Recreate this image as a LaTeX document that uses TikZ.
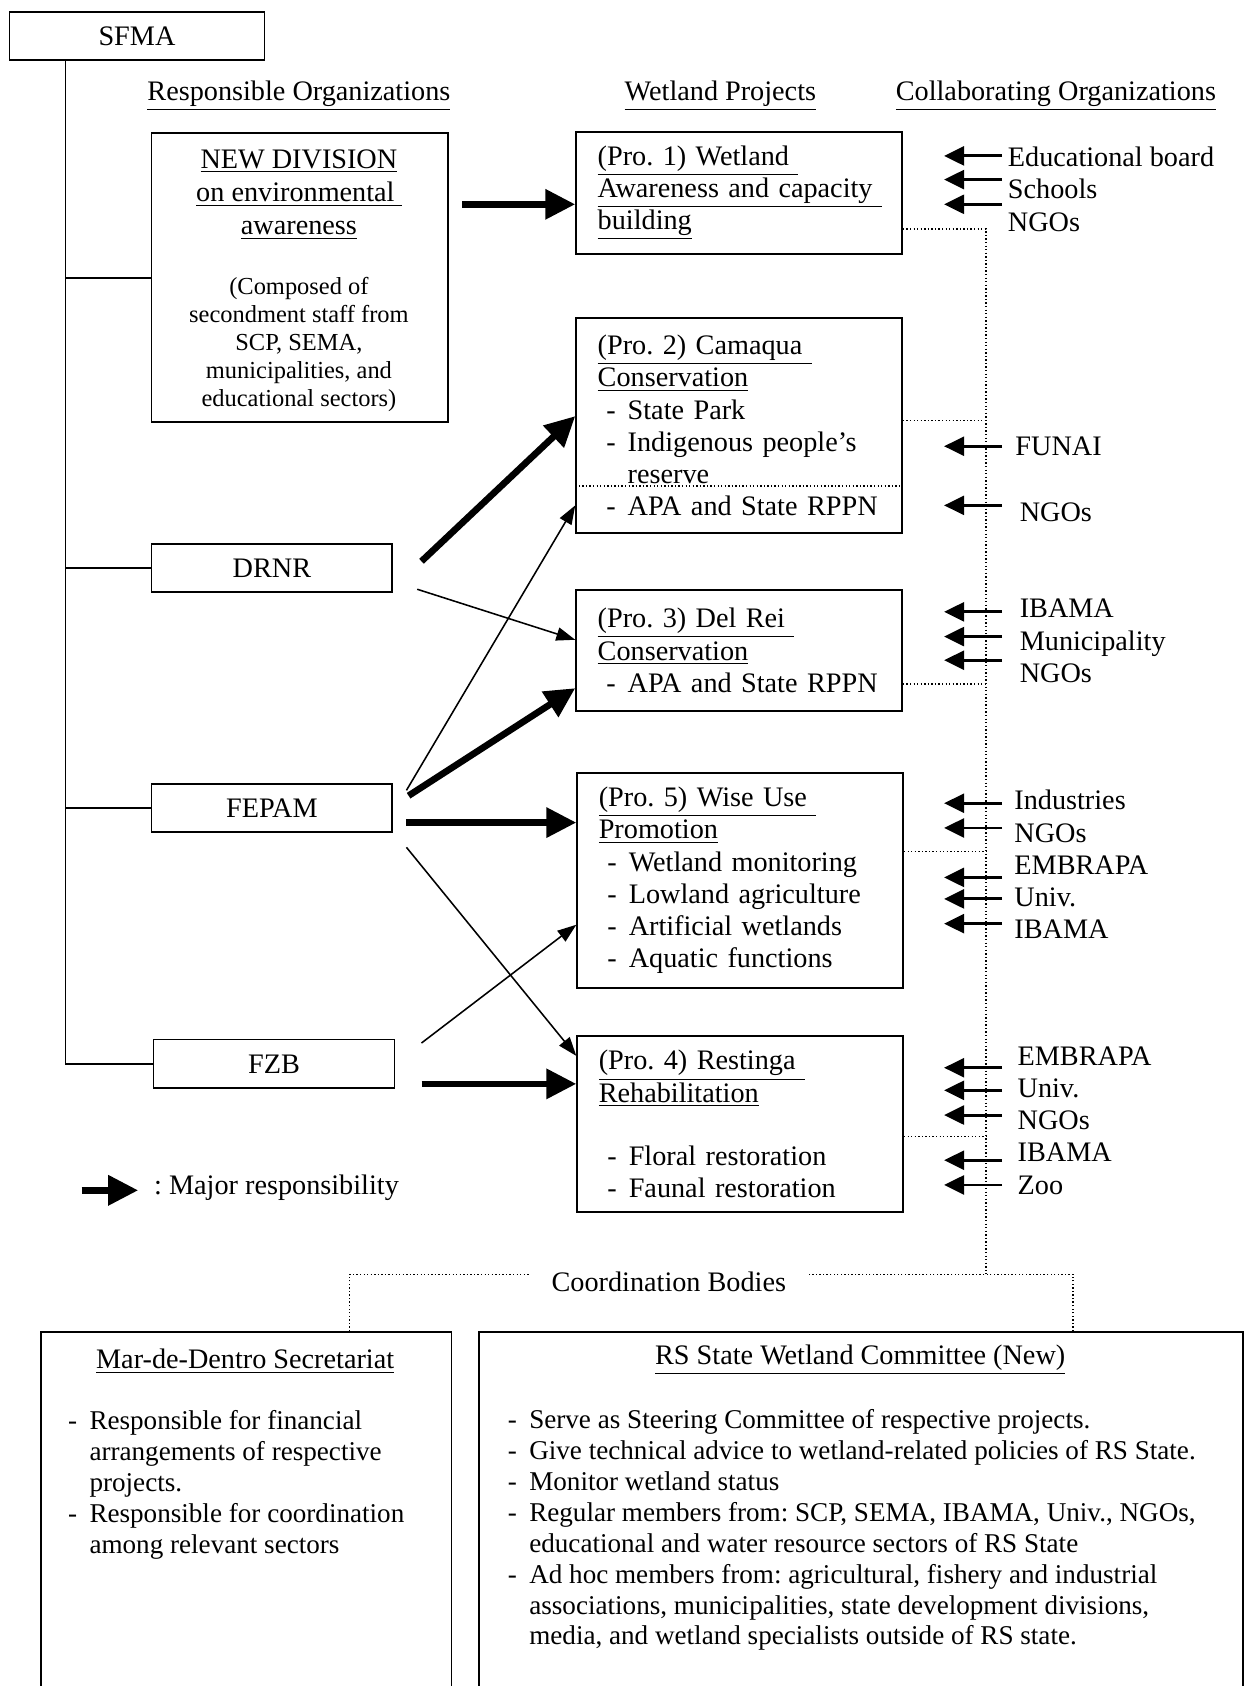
\documentclass[tikz,border=0pt]{standalone}
\usepackage{fontspec}
\setmainfont{Liberation Serif}
\usetikzlibrary{arrows.meta,positioning}
\newcommand{\dashitem}{\makebox[9.6pt][l]{-}}
\newcommand{\dashcont}{\hspace*{9.6pt}}
\frenchspacing
\begin{document}
\begin{tikzpicture}[x=0.48375pt, y=-0.48375pt,
    every node/.style={font=\fontsize{12.7}{14.5}\selectfont},
    box/.style={draw, line width=0.8pt, anchor=north west, inner sep=0pt},
    projbox/.style={box, minimum width=146.6pt, text width=127.2pt,
                    inner xsep=9.7pt, align=left},
    orgbox/.style={box, minimum width=108.4pt, minimum height=21.8pt},
    collabtext/.style={anchor=west, align=left, inner sep=0pt},
    listtext/.style={anchor=west, align=left, inner sep=0pt,
                     font=\fontsize{12.2}{13.9}\selectfont},
    major/.style={-{Triangle[length=13.5pt,width=13pt]}, line width=3pt},
    minor/.style={-{Triangle[length=8.5pt,width=6pt]}, line width=0.7pt},
    collab/.style={-{Triangle[length=9pt,width=8.5pt]}, line width=1.3pt},
    dots/.style={densely dotted, line width=0.6pt}]
  \useasboundingbox (0,0) rectangle (1160,1568);
  \clip (0,0) rectangle (1160,1568);

  % responsible organizations
  \node [box, minimum width=114.7pt, minimum height=21.8pt] (sfma) at (8,10) {SFMA};
  \node [box, minimum width=133.5pt, minimum height=130.1pt] (newdiv) at (140,123) {};
  \node [align=center, font=\fontsize{12.7}{15}\selectfont] (newdiv title) at (278,181)
    {\underline{NEW DIVISION}\\ \underline{on environmental\ }\\ \underline{awareness}};
  \node [align=center, font=\fontsize{11}{12.6}\selectfont] (newdiv note) at (278,320)
    {(Composed of\\ secondment staff from\\ SCP, SEMA,\\ municipalities, and\\ educational sectors)};
  \node [orgbox] (drnr) at (140,505) {DRNR};
  \node [orgbox] (fepam) at (140,728) {FEPAM};
  \node [orgbox] (fzb) at (142,966) {FZB};

  \coordinate (trunk) at (61,0);
  \draw [line width=0.8pt] (sfma.south -| trunk) |- (fzb.west);
  \foreach \n in {newdiv, drnr, fepam}
    \draw [line width=0.8pt] (trunk |- \n.west) -- (\n.west);

  % column heads
  \node (head resp) at (278,89) {\underline{Responsible Organizations}};
  \node (head proj) at (670,89) {\underline{Wetland Projects}};
  \node (head coll) at (982,89) {\underline{Collaborating Organizations}};

  % wetland projects
  \node [projbox, minimum height=54.7pt] (pro1) at (535,122)
    {\underline{(Pro. 1) Wetland\ }\\ \underline{Awareness and capacity\ }\\ \underline{building}};
  \node [projbox, minimum height=96.75pt] (pro2) at (535,295)
    {\underline{(Pro. 2) Camaqua\ }\\ \underline{Conservation}\\
     \hspace*{3.9pt}\dashitem State Park\\
     \hspace*{3.9pt}\dashitem Indigenous people's\\
     \hspace*{3.9pt}\dashcont reserve\\
     \hspace*{3.9pt}\dashitem APA and State RPPN};
  \draw [dots] (pro2.west |- 0,452) -- (pro2.east |- 0,452);
  \node [projbox, minimum height=54.2pt] (pro3) at (535,548)
    {\underline{(Pro. 3) Del Rei\ }\\ \underline{Conservation}\\
     \hspace*{3.9pt}\dashitem APA and State RPPN};
  \node [projbox, minimum height=96.75pt] (pro5) at (536,718)
    {\underline{(Pro. 5) Wise Use\ }\\ \underline{Promotion}\\
     \hspace*{3.9pt}\dashitem Wetland monitoring\\
     \hspace*{3.9pt}\dashitem Lowland agriculture\\
     \hspace*{3.9pt}\dashitem Artificial wetlands\\
     \hspace*{3.9pt}\dashitem Aquatic functions};
  \node [projbox, minimum height=78.9pt] (pro4) at (536,963)
    {\underline{(Pro. 4) Restinga\ }\\ \underline{Rehabilitation}\\[14pt]
     \hspace*{3.9pt}\dashitem Floral restoration\\
     \hspace*{3.9pt}\dashitem Faunal restoration};

  % responsibilities
  \coordinate (newdiv out) at (430,190);
  \coordinate (drnr out1) at (392,522);
  \coordinate (drnr out2) at (388,548);
  \coordinate (fepam out1) at (378,735);
  \coordinate (fepam out2) at (380,740);
  \coordinate (fepam out3) at (378,765);
  \coordinate (fepam out4) at (378,788);
  \coordinate (fzb out1) at (392,970);
  \coordinate (fzb out2) at (392,1008);
  \draw [major] (newdiv out) -- (pro1.west |- newdiv out);
  \draw [major] (drnr out1) -- (pro2.west |- 0,387);
  \draw [minor] (drnr out2) -- (pro3.west |- 0,595);
  \draw [minor] (fepam out1) -- (pro2.west |- 0,470);
  \draw [major] (fepam out2) -- (pro3.west |- 0,640);
  \draw [major] (fepam out3) -- (pro5.west |- fepam out3);
  \draw [minor] (fepam out4) -- (pro4.west |- 0,982);
  \draw [minor] (fzb out1) -- (pro5.west |- 0,860);
  \draw [major] (fzb out2) -- (pro4.west |- fzb out2);

  % legend
  \node [anchor=west, inner sep=0pt] (legend) at (143,1105) {: Major responsibility};
  \coordinate (legend tail) at (76,1107);
  \draw [major] (legend tail) -- (legend.west |- 0,1107) [shorten >=7pt];

  % collaborating organizations
  \node [collabtext] (coll1) at (937,176) {Educational board\\ Schools\\ NGOs};
  \node [collabtext] (coll2a) at (944,415) {FUNAI};
  \node [collabtext] (coll2b) at (948,476) {NGOs};
  \node [collabtext] (coll3) at (948,596) {IBAMA\\ Municipality\\ NGOs};
  \node [collabtext] (coll5) at (943,804) {Industries\\ NGOs\\ EMBRAPA\\ Univ.\\ IBAMA};
  \node [collabtext] (coll4) at (946,1042) {EMBRAPA\\ Univ.\\ NGOs\\ IBAMA\\ Zoo};
  \foreach \y in {145,167,190,415,470,569,592,614,747,770,816,836,859,993,1014,1037,1079,1102}
    \draw [collab] (932,\y) -- (878,\y);

  % dotted links to the coordination bodies
  \coordinate (spine top) at (917,213);
  \coordinate (spine bot) at (917,1185);
  \draw [dots] (pro1.east |- spine top) -- (spine top) -- (spine bot);
  \draw [dots] (pro2.east |- 0,391) -- (spine top |- 0,391);
  \draw [dots] (pro3.east |- 0,636) -- (spine top |- 0,636);
  \draw [dots] (pro5.east |- 0,792) -- (spine top |- 0,792);
  \draw [dots] (pro4.east |- 0,1057) -- (spine top |- 0,1057);

  % coordination bodies
  \node [inner xsep=10pt] (coord) at (622,1192) {Coordination Bodies};
  \node [box, minimum width=184.8pt, minimum height=193.5pt] (mar) at (37,1238) {};
  \node [box, minimum width=343.5pt, minimum height=193.5pt] (rs) at (445,1238) {};
  \coordinate (cl) at (325,1185);
  \coordinate (cr) at (998,1185);
  \draw [dots] (mar.north -| cl) -- (cl) -- (coord.west |- cl);
  \draw [dots] (rs.north -| cr) -- (cr) -- (coord.east |- cr);

  \node (mar title) at (228,1266) {\underline{Mar-de-Dentro Secretariat}};
  \node [listtext] (mar list) at (63,1381)
    {\dashitem Responsible for financial\\ \dashcont arrangements of respective\\
     \dashcont projects.\\ \dashitem Responsible for coordination\\
     \dashcont among relevant sectors};
  \node (rs title) at (800,1265) {\underline{RS State Wetland Committee (New)}};
  \node [listtext] (rs list) at (472,1423)
    {\dashitem Serve as Steering Committee of respective projects.\\
     \dashitem Give technical advice to wetland-related policies of RS State.\\
     \dashitem Monitor wetland status\\
     \dashitem Regular members from: SCP, SEMA, IBAMA, Univ., NGOs,\\
     \dashcont educational and water resource sectors of RS State\\
     \dashitem Ad hoc members from: agricultural, fishery and industrial\\
     \dashcont associations, municipalities, state development divisions,\\
     \dashcont media, and wetland specialists outside of RS state.};
\end{tikzpicture}
\end{document}
